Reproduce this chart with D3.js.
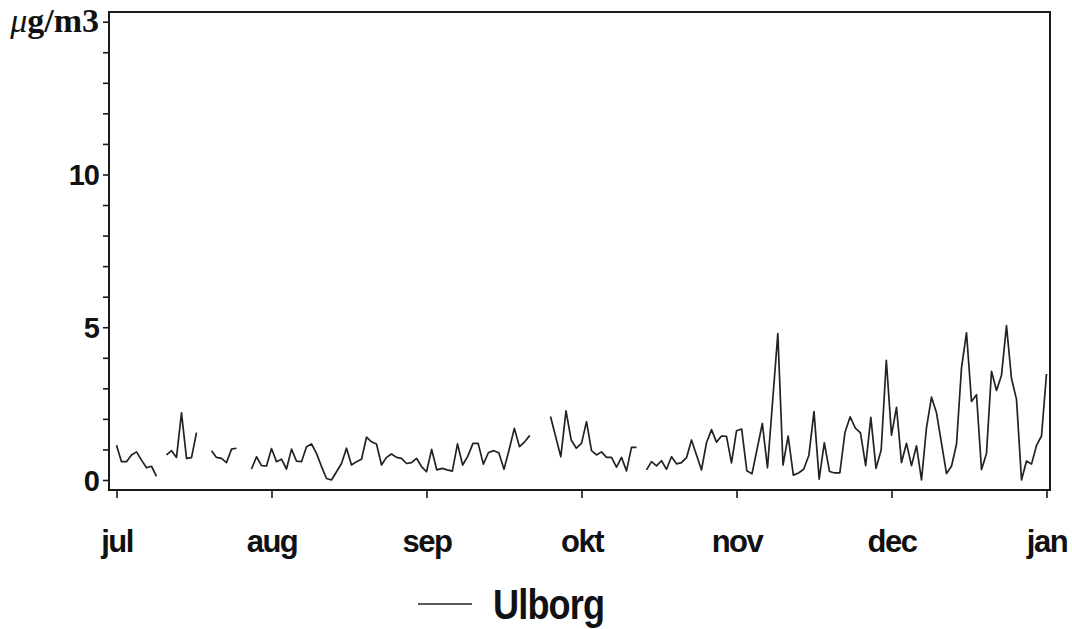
<!DOCTYPE html>
<html>
<head>
<meta charset="utf-8">
<script src="https://cdn.jsdelivr.net/npm/d3@7"></script>
<style>
  body { margin: 0; background: #fff; }
  svg { display: block; }
</style>
</head>
<body>
<svg id="chart" width="1072" height="629"></svg>
<script>
// Month ticks along the time axis (first day of each month, Jul -> Jan)
const monthLabels = ["jul", "aug", "sep", "okt", "nov", "dec", "jan"];
const periodStart = new Date(1990, 6, 1);

// Day offsets from 1 July; null marks a break in the record
const dayOffsets = [
  0, 1, 2, 3, 4, 5, 6, 7, 8, 9,
  10, 11, 12, 13, 14, 15, 16, 17,
  19, 20, 21, 22, 23, 24, 25,
  27, 28, 29, 30, 31, 32, 33, 34, 35, 36, 37, 38, 39, 40, 41, 42, 43, 44, 45, 46,
  47, 48, 49, 50, 51, 52, 53, 54, 55, 56, 57, 58, 59, 60, 61, 62, 63, 64, 65, 66,
  67, 68, 69, 70, 71, 72, 73, 74, 75, 76, 77, 78, 79, 80, 81, 82, 83,
  86, 88, 89, 90, 91, 92, 93, 94, 95, 96, 97, 98, 99, 100, 101, 102, 103, 104,
  105, 106, 107, 108, 109, 110, 111, 112, 113, 114, 115, 116, 117, 118, 119, 120,
  121, 122, 123, 124, 125, 126, 128, 129, 131, 132, 133, 134, 135, 136, 137, 138,
  139, 140, 141, 142, 143, 144, 145, 146, 147, 148, 149, 150, 151, 152, 153, 154,
  155, 156, 157, 158, 159, 160, 161, 162, 164, 165, 166, 167, 168, 169, 170, 171,
  172, 173, 174, 175, 176, 177, 178, 179, 180, 181, 182, 183, 184
];

// Daily concentration at Ulborg, µg/m3
const ulborg = [
  1.14, 0.60, 0.60, 0.82, 0.92, 0.65, 0.40, 0.45, 0.12, null,
  0.82, 0.96, 0.74, 2.20, 0.71, 0.73, 1.55, null,
  0.96, 0.74, 0.71, 0.57, 1.01, 1.04, null,
  0.36, 0.76, 0.47, 0.46, 1.03, 0.60, 0.68, 0.36, 1.01, 0.62, 0.60, 1.09, 1.18, 0.87, 0.44, 0.05, 0.00, 0.27, 0.54, 1.04,
  0.49, 0.60, 0.68, 1.40, 1.25, 1.18, 0.49, 0.74, 0.85, 0.74, 0.71, 0.54, 0.57, 0.71, 0.44, 0.27, 1.00, 0.33, 0.38, 0.33,
  0.29, 1.18, 0.49, 0.78, 1.20, 1.20, 0.52, 0.90, 0.96, 0.89, 0.35, 1.00, 1.69, 1.09, 1.25, 1.46, null,
  2.08, 0.76, 2.26, 1.31, 1.04, 1.20, 1.91, 0.96, 0.82, 0.92, 0.74, 0.74, 0.42, 0.74, 0.30, 1.07, 1.07, null,
  0.33, 0.60, 0.46, 0.63, 0.35, 0.76, 0.53, 0.57, 0.73, 1.31, 0.82, 0.33, 1.22, 1.65, 1.24, 1.44,
  1.43, 0.56, 1.61, 1.67, 0.30, 0.20, 1.85, 0.40, 4.79, 0.49, 1.44, 0.16, 0.23, 0.35, 0.80, 2.24,
  0.03, 1.22, 0.28, 0.23, 0.23, 1.56, 2.07, 1.70, 1.54, 0.47, 2.05, 0.38, 0.98, 3.92, 1.47, 2.38,
  0.57, 1.20, 0.47, 1.12, 0.00, 1.71, 2.71, 2.20, 0.21, 0.45, 1.17, 3.67, 4.82, 2.57, 2.79, 0.34,
  0.87, 3.56, 2.93, 3.43, 5.05, 3.32, 2.64, 0.00, 0.62, 0.52, 1.13, 1.44, 3.47
];

const yTicks = d3.range(0, 16);
const yLabels = { 0: "0", 5: "5", 10: "10" };
const seriesName = "Ulborg";

const svg = d3.select("#chart");
const sansFont = "'Liberation Sans', Arial, Helvetica, sans-serif";

const frame = { left: 109, right: 1050, top: 12, bottom: 490 };
const monthStarts = monthLabels.map((_, i) => d3.timeMonth.offset(periodStart, i));
const firstX = 116.5, lastX = 1046.5;

// Month ticks sit at equal spacing along the axis
const x = d3.scaleTime()
  .domain(monthStarts)
  .range(monthStarts.map((_, i) => firstX + (lastX - firstX) * i / (monthStarts.length - 1)));

const y = d3.scaleLinear().domain([0, 15]).range([480, 21.7]);

const data = dayOffsets.map((d, i) => ({ date: d3.timeDay.offset(periodStart, d), value: ulborg[i] }));

// Plot frame
svg.append("rect")
  .attr("x", frame.left).attr("y", frame.top)
  .attr("width", frame.right - frame.left).attr("height", frame.bottom - frame.top)
  .attr("fill", "none").attr("stroke", "#1a1a1a").attr("stroke-width", 2);

// Y axis
const yAxis = svg.append("g")
  .attr("transform", `translate(${frame.left},0)`)
  .call(d3.axisLeft(y).tickValues(yTicks).tickSize(6).tickFormat(v => yLabels[v] || ""));
yAxis.select(".domain").remove();
yAxis.selectAll(".tick line").attr("stroke", "#1a1a1a").attr("stroke-width", 1.6);
yAxis.selectAll(".tick text")
  .attr("x", -10)
  .attr("dy", "0.36em")
  .attr("fill", "#111")
  .style("font-family", sansFont)
  .style("font-weight", "bold")
  .style("font-size", "29px")
  .style("letter-spacing", "-1px");

// Unit label at the top tick
const unit = svg.append("text")
  .attr("x", frame.left - 10)
  .attr("y", y(15))
  .attr("dy", "0.3em")
  .attr("text-anchor", "end")
  .attr("fill", "#111")
  .style("font-family", "'Liberation Serif', 'DejaVu Serif', serif")
  .style("font-weight", "bold")
  .style("font-size", "34px");
unit.append("tspan").style("font-style", "italic").style("font-weight", "normal").text("μ");
unit.append("tspan").text("g/m3");

// X axis
const xAxis = svg.append("g")
  .attr("transform", `translate(0,${frame.bottom})`)
  .call(d3.axisBottom(x).tickValues(monthStarts).tickSize(8).tickFormat((d, i) => monthLabels[i]));
xAxis.select(".domain").remove();
xAxis.selectAll(".tick line").attr("stroke", "#1a1a1a").attr("stroke-width", 1.6);
xAxis.selectAll(".tick text")
  .attr("y", 62)
  .attr("dy", 0)
  .attr("fill", "#111")
  .style("font-family", sansFont)
  .style("font-weight", "bold")
  .style("font-size", "31px")
  .style("letter-spacing", "-1.5px");

// Series line
const line = d3.line()
  .defined(d => d.value !== null)
  .x(d => x(d.date))
  .y(d => y(d.value));

svg.append("path")
  .datum(data)
  .attr("fill", "none")
  .attr("stroke", "#222")
  .attr("stroke-width", 1.7)
  .attr("stroke-linejoin", "round")
  .attr("d", line);

// Legend
const legend = svg.append("g").attr("transform", "translate(418,604)");
legend.append("line")
  .attr("x1", 0).attr("x2", 54).attr("y1", 0).attr("y2", 0)
  .attr("stroke", "#222").attr("stroke-width", 1.4);
legend.append("text")
  .attr("transform", "translate(75,15) scale(0.86,1)")
  .attr("fill", "#111")
  .style("font-family", sansFont)
  .style("font-weight", "bold")
  .style("font-size", "42px")
  .style("letter-spacing", "-1px")
  .text(seriesName);
</script>
</body>
</html>
